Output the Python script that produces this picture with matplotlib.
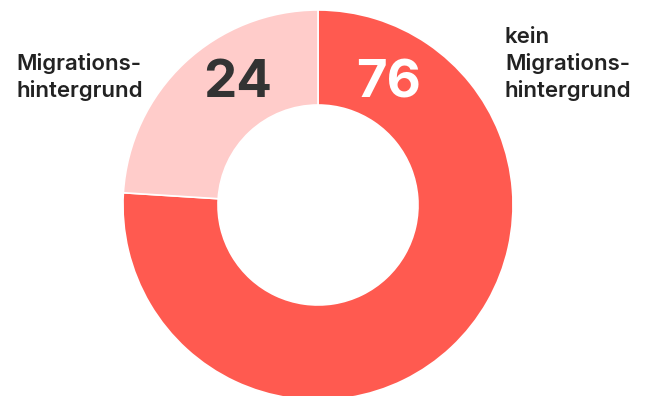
import matplotlib
matplotlib.use("Agg")
import matplotlib.pyplot as plt

categories = ["kein\nMigrations-\nhintergrund", "Migrations-\nhintergrund"]
values = [76, 24]
colors = ["#FF5A50", "#FFCCCA"]
num_colors = ["#FFFFFF", "#333333"]

W, H = 652, 396
fig = plt.figure(figsize=(W / 100, H / 100), dpi=100)
ax = fig.add_axes([0, 0, 1, 1])

cx, cy, R = 318, H - 205, 195
ax.pie(values, colors=colors, startangle=90, counterclock=False,
       center=(cx, cy), radius=R,
       wedgeprops=dict(width=R - 100, edgecolor="white", linewidth=1.2),
       frame=True)
ax.set_xlim(0, W)
ax.set_ylim(0, H)
ax.set_aspect("equal")
ax.axis("off")

font = "Inter"
# value labels
ax.text(388.5, H - 97, str(values[0]), ha="center", va="baseline", fontsize=38,
        fontweight="bold", color=num_colors[0], family=font)
ax.text(237.5, H - 97, str(values[1]), ha="center", va="baseline", fontsize=38,
        fontweight="bold", color=num_colors[1], family=font)

# category labels, one text per line
right_baselines = [43, 70, 97]
left_baselines = [70, 97]
for line, yb in zip(categories[0].split("\n"), right_baselines):
    ax.text(505, H - yb, line, ha="left", va="baseline", fontsize=16,
            fontweight="semibold", color="#222222", family=font)
for line, yb in zip(categories[1].split("\n"), left_baselines):
    ax.text(16, H - yb, line, ha="left", va="baseline", fontsize=16,
            fontweight="semibold", color="#222222", family=font)

fig.savefig("out.png", dpi=100)
